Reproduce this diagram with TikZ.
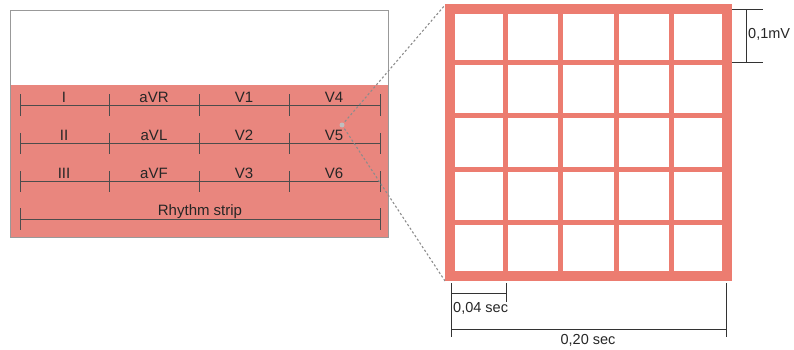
\documentclass[tikz,border=0pt]{standalone}
\usepackage{fontspec}
\setmainfont{Liberation Sans}
\begin{document}
\begin{tikzpicture}[x=1pt,y=-1pt,
  lbl/.style={inner sep=0pt,anchor=base,text=black!85,font=\fontsize{15}{18}\selectfont},
  scl/.style={inner sep=0pt,font=\fontsize{14.5}{17}\selectfont,text=black!85},
  leadline/.style={draw=black!70,line width=0.8pt},
  gridline/.style={draw=gridred,line width=4.8pt},
  dimline/.style={draw=black!80,line width=1pt},
  zoomline/.style={draw=black!45,line width=1.1pt,dash pattern=on 2.2pt off 2.2pt}]
\definecolor{stripfill}{RGB}{233,134,126}
\definecolor{gridred}{RGB}{236,124,112}
\useasboundingbox (0,0) rectangle (794,350);

% --- 12-lead sheet ---
\fill[stripfill] (10,85) rectangle (388,237);
\draw[black!40,line width=0.8pt] (10,10) rectangle (388,237);

% lead rows: line with ticks at the column limits
\foreach \y/\i in {105/1,143.3/2,181.7/3}{
  \draw[leadline] (20,\y) -- (380,\y);
  \foreach \x in {20,109,199,289,380}
    \draw[leadline] (\x,\y-10.5) -- (\x,\y+10.5);
}
\draw[leadline] (20,219) -- (380,219);
\foreach \x in {20,380} \draw[leadline] (\x,208) -- (\x,230);

\node[lbl] (lI)   at (64,102.5) {I};
\node[lbl] (laVR) at (154,102.5) {aVR};
\node[lbl] (lV1)  at (244,102.5) {V1};
\node[lbl] (lV4)  at (334,102.5) {V4};
\node[lbl] (lII)  at (64,140.5) {II};
\node[lbl] (laVL) at (154,140.5) {aVL};
\node[lbl] (lV2)  at (244,140.5) {V2};
\node[lbl] (lV5)  at (334,140.5) {V5};
\node[lbl] (lIII) at (64,178.5) {III};
\node[lbl] (laVF) at (154,178.5) {aVF};
\node[lbl] (lV3)  at (244,178.5) {V3};
\node[lbl] (lV6)  at (334,178.5) {V6};
\node[lbl] (lrh)  at (200,215) {Rhythm strip};

% --- magnified grid ---
\coordinate (focus) at (342,125);
\coordinate (gtl) at (445,5);
\coordinate (gbl) at (445,281);
\draw[zoomline] (focus) -- (gtl);
\draw[zoomline] (focus) -- (gbl);
\fill[black!25] (focus) circle (2.5);

\foreach \k in {1,2,3,4}{
  \draw[gridline] (450+55.4*\k,9.5) -- (450+55.4*\k,275.5);
  \draw[gridline] (450,9.5+53.2*\k) -- (727,9.5+53.2*\k);
}
\draw[draw=gridred,line width=10pt] (450,9.5) rectangle (727,275.5);

% --- voltage scale ---
\coordinate (vt) at (746,9.5);
\coordinate (vb) at (746,62.2);
\draw[dimline] (732,9.5) -- (763,9.5);
\draw[dimline] (732,62.2) -- (763,62.2);
\draw[dimline] (vt) -- (vb);
\node[scl,anchor=west] (mv) at (748,34) {0,1mV};

% --- time scales ---
\coordinate (t0) at (451,283);
\coordinate (t1) at (506,283);
\coordinate (t5) at (726,283);
\draw[dimline] (t0) -- (451,337);
\draw[dimline] (t1) -- (506,302);
\draw[dimline] (t5) -- (726,337);
\draw[dimline] (451,293) -- (506,293);
\draw[dimline] (451,329) -- (726,329);
\node[scl,anchor=west] (s04) at (453,308) {0,04 sec};
\node[scl] (s20) at (588,340) {0,20 sec};
\end{tikzpicture}
\end{document}
